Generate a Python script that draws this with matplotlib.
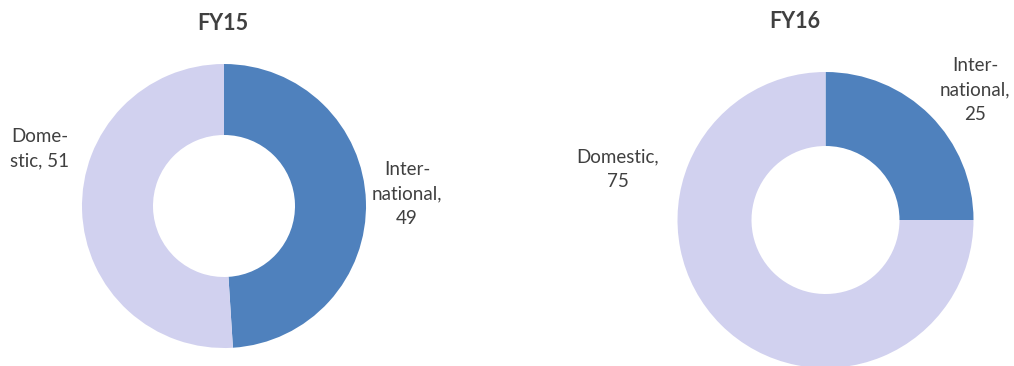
import matplotlib
matplotlib.use("Agg")
import matplotlib.pyplot as plt

# Data
years = ["FY15", "FY16"]
categories = ["International", "Domestic"]
# label texts as wrapped in the reference (name part), values appended
label_names = {"FY15": ["Inter-\nnational,\n", "Dome-\nstic, "],
               "FY16": ["Inter-\nnational,\n", "Domestic,\n"]}
values = {"FY15": [49, 51], "FY16": [25, 75]}
colors = ["#4F81BD", "#D1D1EF"]

W, H = 1014, 366
fig = plt.figure(figsize=(W / 100, H / 100), dpi=100)
ax = fig.add_axes([0, 0, 1, 1])
ax.set_xlim(0, W)
ax.set_ylim(0, H)
ax.set_aspect("equal")
ax.axis("off")

plt.rcParams["font.family"] = ["Lato", "DejaVu Sans"]
txt_color = "#404040"

layout = {
    "FY15": dict(center=(224, H - 206), r=142, title=(223, H - 23),
                 labels=[(407, H - 194), (40, H - 149)]),
    "FY16": dict(center=(825.5, H - 220), r=148, title=(795, H - 22),
                 labels=[(975, H - 90), (618, H - 169)]),
}

for yr in years:
    L = layout[yr]
    ax.pie(values[yr], colors=colors, startangle=90, counterclock=False,
           center=L["center"], radius=L["r"],
           wedgeprops=dict(width=L["r"] * 0.5, edgecolor="none"))
    ax.text(L["title"][0], L["title"][1], yr, ha="center", va="center",
            fontsize=15.5, fontweight="bold", color=txt_color)
    for i, cat in enumerate(categories):
        lx, ly = L["labels"][i]
        ax.text(lx, ly, f"{label_names[yr][i]}{values[yr][i]}",
                ha="center", va="center", fontsize=13.5, color=txt_color,
                linespacing=1.55)

ax.set_xlim(0, W)
ax.set_ylim(0, H)
fig.savefig("out.png", dpi=100)
